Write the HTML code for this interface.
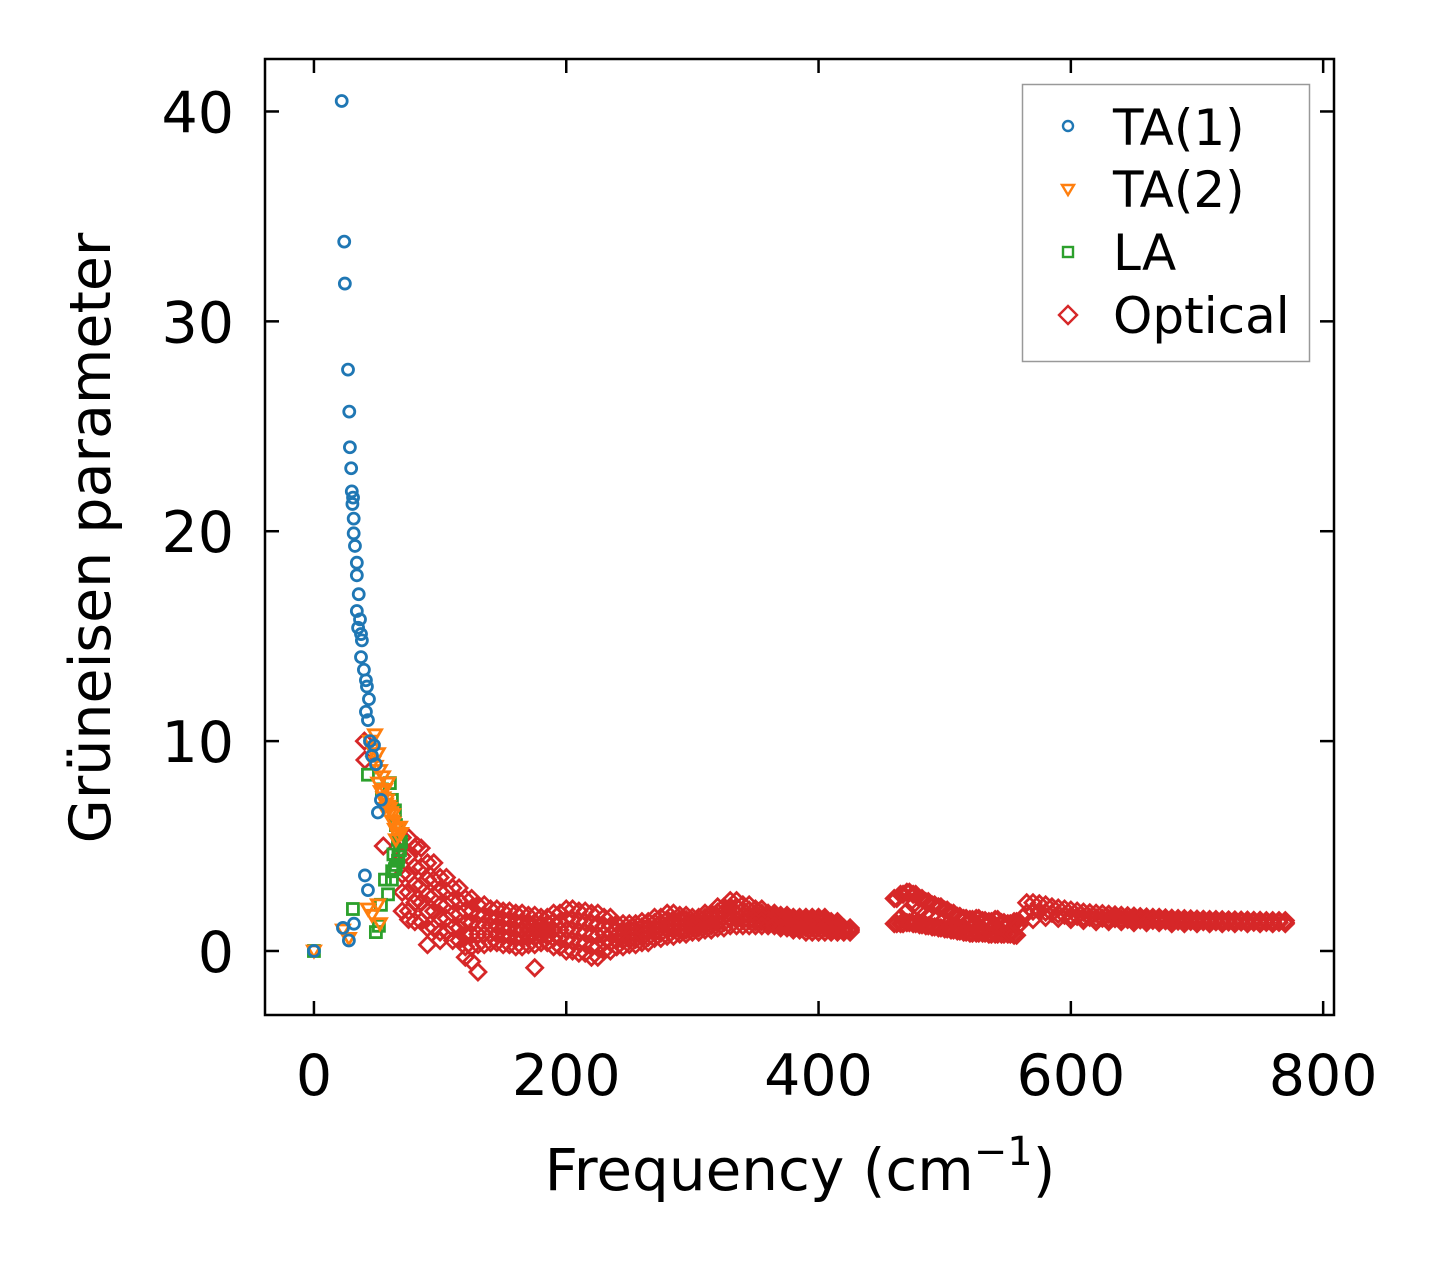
<!DOCTYPE html>
<html><head><meta charset="utf-8"><style>
html,body{margin:0;padding:0;background:#fff;}
svg{display:block;font-family:"DejaVu Sans","Liberation Sans",sans-serif;}
</style></head><body>
<svg id="chart" width="1438" height="1264" viewBox="0 0 1438 1264" xmlns="http://www.w3.org/2000/svg">
<g id="marks"></g>
<rect x="265" y="59" width="1069" height="956" fill="none" stroke="#000" stroke-width="2.5"/>
<g id="ticks"></g>
<text x="800" y="1190" font-size="58" text-anchor="middle">Frequency (cm<tspan font-size="40" dy="-25">−1</tspan><tspan dy="25">)</tspan></text>
<text transform="translate(110,538) rotate(-90)" font-size="57" text-anchor="middle">Grüneisen parameter</text>
<g>
<rect x="1022.5" y="84.5" width="287" height="277" fill="#fff" stroke="#999" stroke-width="1.5"/>
<circle cx="1068" cy="126" r="5" fill="none" stroke="#1f77b4" stroke-width="2.4"/>
<text x="1113" y="145" font-size="50">TA(1)</text>
<path d="M1062,185 L1074,185 L1068,195 Z" fill="none" stroke="#ff7f0e" stroke-width="2.4"/>
<text x="1113" y="207" font-size="50">TA(2)</text>
<rect x="1063" y="247" width="10" height="10" fill="none" stroke="#2ca02c" stroke-width="2.4"/>
<text x="1113" y="270" font-size="50">LA</text>
<path d="M1068,306 L1077,315 L1068,324 L1059,315 Z" fill="none" stroke="#d62728" stroke-width="2.4"/>
<text x="1113" y="333" font-size="50">Optical</text>
</g>
</svg>
<script>
const xTicks=[0,200,400,600,800];
const yTicks=[0,10,20,30,40];
const ta1F=[22,24,24.5,27,28,28.5,29.5,30,31,30.5,31.5,31.5,32.5,34,34,35.5,34,36.5,35,37.3,38,37.3,39.6,41.2,42,43.6,41.2,42.8,44.4,47.6,46,49.1,53.1,50.7,40.4,42.8,31.7,27.7,23,0];
const ta1G=[40.5,33.8,31.8,27.7,25.7,24,23,21.9,21.6,21.3,20.6,19.9,19.3,18.5,17.9,17,16.2,15.8,15.4,15.1,14.8,14,13.4,12.9,12.6,12,11.4,11,10,9.8,9.3,8.9,7.2,6.6,3.6,2.9,1.3,0.5,1.1,0];
const ta2F=[44.4,48.4,46,50.7,52.3,54.7,56.3,57.9,60.2,61.8,64.2,66.6,68.2,55.5,58.7,42.8,50.7,46,27.7,23,0,52.3,62.6,65,47,49,51,53,55,57,59,61,63,67,69];
const ta2G=[10,10.3,9.6,9.4,8.6,8.3,7.7,7.2,6.8,6.2,5.8,5.5,5.9,6.8,8,2,2.2,1.7,0.6,1,0,1.3,6.5,5.3,9,8.8,8,7.6,7.3,7,6.9,6.6,6.1,5.8,5.6];
const laF=[42.8,53.9,60.2,61.8,64.2,65,66.6,68.2,66.6,64.2,61.8,56.3,58.7,53.1,30.9,49.1,51.5,0,69,67,63,65,67,62];
const laG=[8.4,7.7,8,7.2,6.7,6,5.3,4.8,4.3,3.9,3.4,3.4,2.7,2.2,2,0.9,1.2,0,5.2,5.6,4.6,4.1,4.5,3.8];

// optical branches, main band 70-420 cm-1 (each branch sampled on two q-grids)
const bandF=[70,80,90,100,110,120,130,140,150,160,170,180,190,200,210,220,230,240,250,260,270,280,290,300,310,320,330,340,350,360,370,380,390,400,410,420];
const bandFb=[75,85,95,105,115,125,135,145,155,165,175,185,195,205,215,225,235,245,255,265,275,285,295,305,315,325,335,345,355,365,375,385,395,405,415,425];
const opt1G=[5.4,4.9,4.2,3.5,3.0,2.5,2.2,2.0,1.9,1.8,1.7,1.6,1.8,2.0,1.9,1.8,1.6,1.3,1.3,1.4,1.6,1.8,1.7,1.6,1.8,2.1,2.4,2.2,2.0,1.8,1.7,1.6,1.6,1.6,1.4,1.1];
const opt2G=[4.5,4.0,3.4,2.85,2.4,1.9,1.7,1.6,1.5,1.4,1.35,1.3,1.4,1.5,1.4,1.3,1.2,1.0,1.05,1.15,1.35,1.5,1.5,1.4,1.6,1.85,2.1,1.95,1.8,1.65,1.55,1.45,1.45,1.45,1.3,1.05];
const opt3G=[3.65,3.15,2.65,2.2,1.75,1.35,1.25,1.2,1.1,1.0,1.0,1.0,1.0,1.0,0.9,0.75,0.8,0.75,0.8,0.9,1.1,1.25,1.25,1.25,1.4,1.6,1.8,1.7,1.6,1.5,1.4,1.3,1.25,1.25,1.15,1.0];
const opt4G=[2.8,2.3,1.9,1.55,1.1,0.8,0.8,0.8,0.7,0.6,0.65,0.7,0.6,0.5,0.4,0.2,0.4,0.5,0.55,0.65,0.85,1.0,1.0,1.1,1.2,1.35,1.5,1.45,1.4,1.35,1.25,1.15,1.1,1.1,1.0,0.95];
const opt5G=[1.9,1.4,1.1,0.9,0.5,0.2,0.3,0.4,0.3,0.2,0.3,0.4,0.2,0,-0.1,-0.3,0,0.2,0.3,0.4,0.6,0.7,0.8,0.9,1.0,1.1,1.2,1.2,1.2,1.2,1.1,1.0,0.9,0.9,0.9,0.9];
// optical 460-555
const midF=[460,465,470,475,480,485,490,495,500,505,510,515,520,525,530,535,540,545,550,555];
const midFb=[462,467,472,477,482,487,492,497,502,507,512,517,522,527,532,537,542,547,552,557];
const optDG=[1.3,1.3,1.35,1.3,1.25,1.2,1.15,1.1,1.05,1.0,0.95,0.9,0.85,0.85,0.85,0.8,0.8,0.8,0.8,0.75];
const optEG=[2.5,2.7,2.8,2.7,2.5,2.35,2.2,2.1,1.95,1.8,1.65,1.55,1.5,1.55,1.45,1.4,1.5,1.35,1.3,1.4];
const optHF=[465,470,475,480,485,490,495,500];
const optHG=[1.6,1.9,2.2,2.0,1.8,1.7,1.6,1.5];
// optical 560-770
const tailF=[565,570,575,580,585,590,595,600,605,610,615,620,625,630,635,640,645,650,655,660,665,670,675,680,685,690,695,700,705,710,715,720,725,730,735,740,745,750,755,760,765,770];
const tailUG=[2.3,2.3,2.25,2.2,2.1,2.05,2.0,1.95,1.9,1.85,1.82,1.8,1.78,1.75,1.72,1.7,1.68,1.66,1.64,1.62,1.6,1.6,1.58,1.56,1.55,1.54,1.53,1.52,1.51,1.5,1.5,1.49,1.48,1.48,1.47,1.47,1.46,1.46,1.45,1.45,1.45,1.45];
const tailMG=[1.8,1.9,1.9,1.85,1.8,1.75,1.7,1.68,1.65,1.62,1.6,1.58,1.56,1.55,1.54,1.52,1.5,1.5,1.48,1.47,1.46,1.45,1.44,1.43,1.42,1.42,1.41,1.4,1.4,1.4,1.39,1.39,1.38,1.38,1.38,1.37,1.37,1.37,1.36,1.36,1.36,1.36];
const tailLF=[560,570,580,590,600,610,620,630,640,650,660,670,680,690,700,710,720,730,740,750,760,770];
const tailLG=[1.3,1.5,1.6,1.55,1.5,1.45,1.4,1.4,1.4,1.35,1.35,1.35,1.3,1.3,1.3,1.3,1.3,1.3,1.3,1.3,1.3,1.3];
// scattered optical points
const outF=[90,100,120,125,130,175,40,40.4,55,82,75,82,425,555,558,562];
const outG=[0.3,0.5,-0.3,-0.5,-1,-0.8,10,9.1,5,5,1.5,2.5,1.0,0.8,1.2,1.6];

const X0=265,X1=1334,Y0=59,Y1=1015;
const xMin=-38.8,xMax=808.6,yMin=-3.05,yMax=42.5;
function sx(v){return X0+(v-xMin)/(xMax-xMin)*(X1-X0);}
function sy(v){return Y1-(v-yMin)/(yMax-yMin)*(Y1-Y0);}
const NS='http://www.w3.org/2000/svg';
const marks=document.getElementById('marks');
const ticks=document.getElementById('ticks');
function mk(tag,attrs,parent){const e=document.createElementNS(NS,tag);for(const k in attrs)e.setAttribute(k,attrs[k]);parent.appendChild(e);return e;}

const gOpt=mk('g',{},marks);


const optSets=[[bandF,opt1G],[bandFb,opt1G],[bandF,opt2G],[bandFb,opt2G],[bandF,opt3G],[bandFb,opt3G],[bandF,opt4G],[bandFb,opt4G],[bandF,opt5G],[bandFb,opt5G],
 [midF,optDG],[midFb,optDG],[midF,optEG],[midFb,optEG],[optHF,optHG],[tailF,tailUG],[tailF,tailMG],[tailLF,tailLG],[outF,outG]];
optSets.forEach(([fs,gs])=>{fs.forEach((f,i)=>{if(gs[i]===undefined)return;const x=sx(f),y=sy(gs[i]);
 const e=mk('path',{d:`M${x},${y-8} L${x+8},${y} L${x},${y+8} L${x-8},${y} Z`,fill:'none',stroke:'#d62728','stroke-width':2.8},gOpt);
 
 });});
const gLA=mk('g',{},marks);


laF.forEach((f,i)=>{const e=mk('rect',{x:sx(f)-5.5,y:sy(laG[i])-5.5,width:11,height:11,fill:'none',stroke:'#2ca02c','stroke-width':2.8},gLA);
 
 });
const gT2=mk('g',{},marks);


ta2F.forEach((f,i)=>{const x=sx(f),y=sy(ta2G[i]);
 const e=mk('path',{d:`M${x-6.5},${y-5} L${x+6.5},${y-5} L${x},${y+6} Z`,fill:'none',stroke:'#ff7f0e','stroke-width':2.8},gT2);
 
 });
const gT1=mk('g',{},marks);


ta1F.forEach((f,i)=>{const e=mk('circle',{cx:sx(f),cy:sy(ta1G[i]),r:5.5,fill:'none',stroke:'#1f77b4','stroke-width':2.8},gT1);
 
 });

xTicks.forEach(v=>{const x=sx(v);
 mk('line',{x1:x,x2:x,y1:Y1,y2:Y1-14,stroke:'#000','stroke-width':2.5},ticks);
 mk('line',{x1:x,x2:x,y1:Y0,y2:Y0+14,stroke:'#000','stroke-width':2.5},ticks);
 const t=mk('text',{x:x,y:1095,'font-size':57,'text-anchor':'middle'},ticks);
 t.textContent=v;
 
 });
yTicks.forEach(v=>{const y=sy(v);
 mk('line',{x1:X0,x2:X0+14,y1:y,y2:y,stroke:'#000','stroke-width':2.5},ticks);
 mk('line',{x1:X1,x2:X1-14,y1:y,y2:y,stroke:'#000','stroke-width':2.5},ticks);
 const t=mk('text',{x:234,y:y+21,'font-size':57,'text-anchor':'end'},ticks);
 t.textContent=v;
 
 });
</script>
</body></html>
